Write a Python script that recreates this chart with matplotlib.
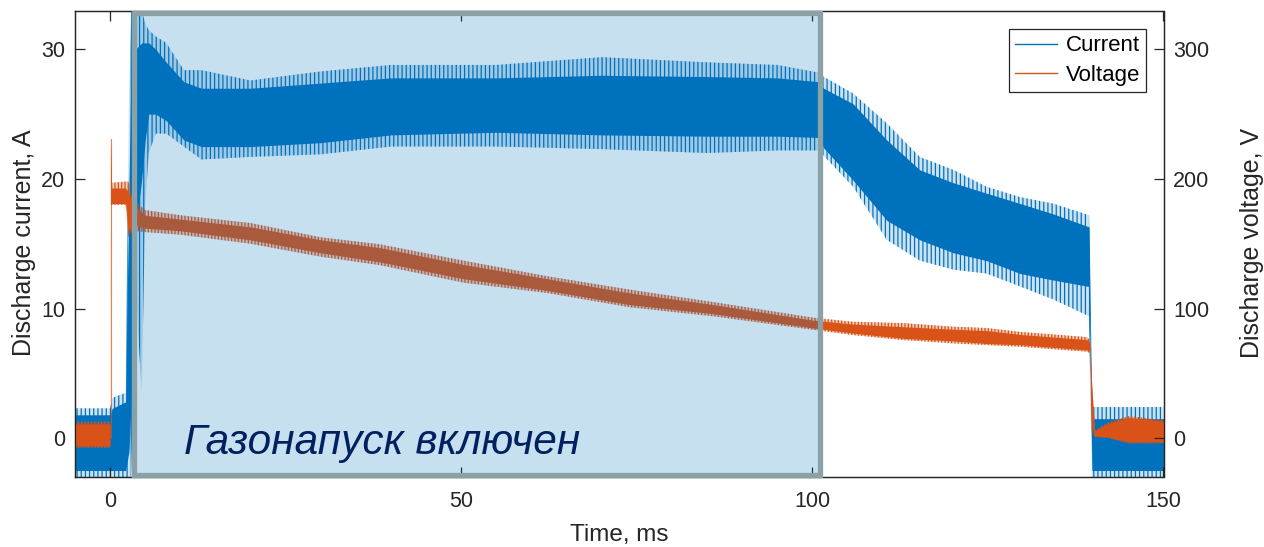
import numpy as np
import matplotlib.pyplot as plt
import matplotlib.colors as mcolors
from matplotlib.patches import Rectangle

plt.rcParams['font.family'] = ['Liberation Sans', 'DejaVu Sans']
plt.rcParams['hatch.linewidth'] = 0.9

# discharge current envelope (ms, A)
t_cur = [-5.0, 0.0, 0.3, 2.2, 2.7, 3.0, 3.6, 4.5, 5.0, 5.5, 6.5, 8.0, 10.5, 13.0, 20.0, 30.0,
         40.0, 55.0, 70.0, 85.0, 95.0, 101.0, 101.6, 105.8, 110.6, 115.3, 120.1, 124.8,
         129.6, 134.3, 139.4, 139.8, 150.0]
cur_out_lo = [-3, -3, -3, -3, -3, -3, 12, 3.4, 18, 22, 23.5, 23.5, 22.5, 21.5, 21.7, 21.9,
              22.5, 22.5, 22.3, 22.0, 22.2, 22.2, 21.8, 19.4, 15.3, 13.7, 13.0, 12.7,
              11.7, 10.7, 9.4, -3, -3]
cur_core_lo = [-2.5, -2.5, -2.5, -2.5, -1, 3, 16, 20, 23, 25, 25, 24.5, 23, 22.5, 22.5, 22.8,
               23.4, 23.6, 23.4, 23.3, 23.3, 23.2, 22.4, 19.9, 16.8, 15.3, 14.3, 13.7,
               12.7, 12.2, 11.7, -2.5, -2.5]
cur_core_hi = [1.8, 1.8, 2.3, 2.8, 20, 29, 30, 30.5, 30.5, 30.5, 30, 29, 27.5, 27.0, 27.0, 27.4,
               27.8, 27.8, 28.0, 27.9, 27.8, 27.5, 27.0, 25.8, 23.0, 20.7, 19.7, 18.9,
               18.1, 17.3, 16.3, 1.5, 1.5]
cur_out_hi = [2.3, 2.3, 3.1, 3.5, 27, 33, 33, 33, 32, 31.5, 31, 30.5, 28.4, 28.4, 27.6, 28.3,
              28.8, 28.8, 29.4, 29.0, 28.8, 28.2, 27.9, 26.6, 24.3, 21.7, 20.7, 19.4,
              18.6, 18.1, 17.2, 2.4, 2.4]

# discharge voltage envelope (ms, V)
t_volt = [-5.0, 0.0, 0.08, 0.2, 2.2, 2.6, 3.2, 5.0, 10.0, 20.0, 30.0, 38.4, 50.3, 62.2,
          74.0, 85.9, 100.1, 105.8, 112.9, 120.1, 124.8, 129.6, 139.1, 139.5, 139.8,
          140.2, 142.0, 145.0, 150.0]
volt_out_lo = [-7.5, -7.5, 180, 180, 180, 155, 160, 159, 157, 150, 140, 133.5, 120, 112,
               101, 94, 83.6, 79.5, 75.7, 73.1, 71.8, 70.5, 66.7, 65.6, 3.9,
               1, 0, -4, -4]
volt_core_lo = [-6, -6, 181, 181, 181, 160, 165, 162, 160, 153, 143, 136, 123, 114,
                103, 96, 85, 81, 77, 75, 73, 72, 68, 67, 10,
                1.5, 1, -3, -3]
volt_core_hi = [11, 11, 230, 193, 193, 190, 180, 172, 169, 163, 153, 147, 134, 123,
                112, 103, 91, 88, 86, 84, 83, 80, 76, 74, 40,
                5.5, 11, 16, 13]
volt_out_hi = [12.7, 12.7, 231, 197, 198, 198, 184, 176, 172, 166, 155, 149.6, 137, 125,
               114.6, 105, 93, 89.8, 88.8, 86, 85, 82, 78, 75.7, 42.5,
               6, 12, 17, 14]

# switch-on spike of the voltage (ms, V)
spike_t = [0.1, 0.1]
spike_v = [0, 231]

gas_on = (3.35, 101.1)   # gas inlet window, ms

c_cur = '#0072BD'
c_volt = '#D95319'
ink = '#262626'

fig = plt.figure(figsize=(12.64, 5.47), dpi=100)
ax1 = fig.add_axes([75/1264, 70/547, 1088.5/1264, 466.5/547])
ax2 = ax1.twinx()

# noisy fringe = light fill + dense vertical hatch, dense core = solid
ax1.fill_between(t_cur, cur_out_lo, cur_out_hi, facecolor=mcolors.to_rgba(c_cur, 0.2),
                 edgecolor=c_cur, hatch='||||', lw=0)
ax1.fill_between(t_cur, cur_core_lo, cur_core_hi, color=c_cur, lw=0)
ax2.fill_between(t_volt, volt_out_lo, volt_out_hi, facecolor=mcolors.to_rgba(c_volt, 0.3),
                 edgecolor=c_volt, hatch='|||||', lw=0)
ax2.fill_between(t_volt, volt_core_lo, volt_core_hi, color=c_volt, lw=0)
ax2.plot(spike_t, spike_v, color=c_volt, lw=0.8, alpha=0.7)

ax1.set_xlim(-5, 150)
ax1.set_ylim(-3, 33)
ax2.set_ylim(-30, 330)
ax1.set_xticks([0, 50, 100, 150])
ax1.set_yticks([0, 10, 20, 30])
ax2.set_yticks([0, 100, 200, 300])

# highlighted window on top of both traces
trans = ax2.get_xaxis_transform()
ax2.add_patch(Rectangle((gas_on[0], 0.004), gas_on[1]-gas_on[0], 0.99, transform=trans,
                        facecolor=c_cur, alpha=0.22, lw=0, zorder=5, clip_on=False))
ax2.add_patch(Rectangle((gas_on[0], 0.004), gas_on[1]-gas_on[0], 0.99, transform=trans,
                        facecolor='none', edgecolor='#8AA2A5', lw=3.8, zorder=6, clip_on=False))
ax2.text(10.5, 0.05, 'Газонапуск включен', transform=trans, fontsize=30.5, style='italic',
         color='#002060', zorder=7)

for ax in (ax1, ax2):
    for s in ax.spines.values():
        s.set_color(ink)
        s.set_linewidth(0.9)
ax1.tick_params(axis='x', direction='in', top=True, length=7.5, width=0.9, colors=ink,
                labelsize=15.5, pad=10)
ax1.tick_params(axis='y', direction='in', length=7.5, width=0.9, colors=ink, labelsize=15.5, pad=7)
ax2.tick_params(axis='y', direction='in', length=7.5, width=0.9, colors=ink, labelsize=15.5, pad=7)

ax1.set_xlabel('Time, ms', fontsize=17.5, color=ink, labelpad=9)
fig.text(24.5/1264, 1 - 243/547, 'Discharge current, A', rotation=90, ha='center', va='center',
         fontsize=18, color=ink)
fig.text(1252/1264, 1 - 243/547, 'Discharge voltage, V', rotation=90, ha='center', va='center',
         fontsize=18, color=ink)

h1, = ax1.plot([], [], color=c_cur, lw=1, label='Current')
h2, = ax2.plot([], [], color=c_volt, lw=1, label='Voltage')
leg = ax2.legend(handles=[h1, h2], loc='upper right', bbox_to_anchor=(0.984, 0.96),
                 fontsize=16, frameon=True, fancybox=False, framealpha=1, edgecolor=ink,
                 handlelength=1.85, handletextpad=0.4, borderpad=0.28, labelspacing=0.38,
                 borderaxespad=0)
leg.get_frame().set_linewidth(0.9)
leg.set_zorder(10)

plt.savefig('out.png', dpi=100)
plt.close()
